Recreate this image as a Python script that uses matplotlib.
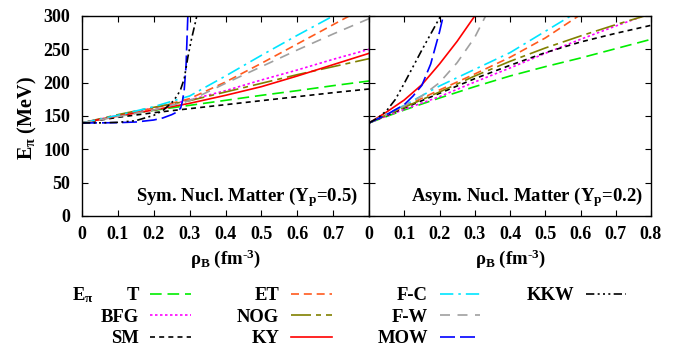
import numpy as np
import matplotlib
matplotlib.use("Agg")
import matplotlib.pyplot as plt
from matplotlib.lines import Line2D

plt.rcParams['font.family'] = 'Liberation Serif'
plt.rcParams['font.weight'] = 'bold'
plt.rcParams['axes.labelweight'] = 'bold'
plt.rcParams['mathtext.fontset'] = 'custom'
plt.rcParams['mathtext.rm'] = 'Liberation Serif:bold'
plt.rcParams['mathtext.it'] = 'Liberation Serif:bold'
plt.rcParams['mathtext.bf'] = 'Liberation Serif:bold'

# Matéria simétrica (Yp = 0.5)
x_sym = [0, 0.1, 0.2, 0.3, 0.4, 0.5, 0.6, 0.7, 0.8]
t_sym = [139.6, 150, 158.5, 166, 173.5, 181, 188, 195.5, 202.5]
bfg_sym = [139.6, 151, 162, 174, 188, 204, 219, 235, 250]
sm_sym = [139.6, 148, 155, 161, 167, 173, 179, 185, 190.5]
et_sym = [139.6, 150, 162, 176, 201, 229, 258, 287, 316]
nog_sym = [139.6, 152, 163, 173, 186, 199, 212, 224, 236]
ky_sym = [139.6, 150, 159, 169, 181, 194, 210, 227, 244]
fc_sym = [139.6, 151, 164, 180, 210, 241, 271, 300, 330]
fw_sym = [139.6, 149, 159, 173, 199, 224, 249, 273, 296]
x_mow_sym = [0, 0.05, 0.1, 0.15, 0.2, 0.225, 0.25, 0.265, 0.275, 0.28, 0.285, 0.29, 0.295, 0.3]
mow_sym = [139.6, 139.7, 140, 141, 144, 147, 152, 156, 162, 172, 190, 225, 300, 340]
x_kkw_sym = [0, 0.05, 0.1, 0.15, 0.2, 0.225, 0.25, 0.265, 0.275, 0.285, 0.295, 0.305, 0.315, 0.325]
kkw_sym = [139.6, 139.7, 140.5, 143, 151, 158, 170, 180, 190, 206, 238, 265, 288, 312]

# Matéria assimétrica (Yp = 0.2)
x_asy = [0, 0.1, 0.2, 0.3, 0.4, 0.5, 0.6, 0.7, 0.8]
t_asy = [139.6, 159, 177, 194, 210, 224, 237, 251, 265]
bfg_asy = [139.6, 160, 179, 201, 222, 244, 265, 285, 304]
sm_asy = [139.6, 162, 184, 206, 226, 245, 261, 274, 286]
et_asy = [139.6, 164, 189, 213, 238, 267, 302, 340, 380]
nog_asy = [139.6, 163, 186, 210, 232, 252, 270, 287, 303]
fc_asy = [139.6, 166, 195, 220, 245, 277, 309, 345, 380]
x_ky_asy = [0, 0.05, 0.1, 0.15, 0.2, 0.25, 0.3, 0.32]
ky_asy = [139.6, 156, 174, 197, 228, 262, 300, 318]
x_fw_asy = [0, 0.05, 0.1, 0.15, 0.2, 0.25, 0.3, 0.35]
fw_asy = [139.6, 152, 165, 180, 200, 230, 268, 320]
x_mow_asy = [0, 0.05, 0.1, 0.125, 0.15, 0.175, 0.2, 0.215]
mow_asy = [139.6, 152, 167, 180, 196, 228, 276, 310]
x_kkw_asy = [0, 0.025, 0.05, 0.075, 0.1, 0.15, 0.2, 0.215]
kkw_asy = [139.6, 147, 158, 175, 199, 249, 297, 312]

# Estilos (cor, tracejado)
estilos = {
    'T':   ('#00ee00', [7, 3.5]),
    'BFG': ('#ff00ff', [1.5, 1.5]),
    'SM':  ('black',   [3, 2.5]),
    'ET':  ('#ff5a1e', [4.8, 2.9]),
    'NOG': ('#808000', [12, 3, 3, 3]),
    'KY':  ('#ff0000', None),
    'F-C': ('#00e5ff', [8, 3, 1.5, 3]),
    'F-W': ('#a0a0a0', [6, 4.5]),
    'MOW': ('#0000ff', [9, 3]),
    'KKW': ('black',   [5, 2, 1.2, 2, 1.2, 2, 1.2, 2]),
}

series_sym = [('T', x_sym, t_sym), ('BFG', x_sym, bfg_sym), ('SM', x_sym, sm_sym),
              ('ET', x_sym, et_sym), ('NOG', x_sym, nog_sym), ('KY', x_sym, ky_sym),
              ('F-C', x_sym, fc_sym), ('F-W', x_sym, fw_sym),
              ('MOW', x_mow_sym, mow_sym), ('KKW', x_kkw_sym, kkw_sym)]
series_asy = [('T', x_asy, t_asy), ('BFG', x_asy, bfg_asy), ('SM', x_asy, sm_asy),
              ('ET', x_asy, et_asy), ('NOG', x_asy, nog_asy), ('KY', x_ky_asy, ky_asy),
              ('F-C', x_asy, fc_asy), ('F-W', x_fw_asy, fw_asy),
              ('MOW', x_mow_asy, mow_asy), ('KKW', x_kkw_asy, kkw_asy)]

W, H = 680, 347
fig = plt.figure(figsize=(W / 100, H / 100), dpi=100)
ax1 = fig.add_axes([82 / W, 1 - 216 / H, 287 / W, 200 / H])
ax2 = fig.add_axes([369 / W, 1 - 216 / H, 282 / W, 200 / H])

def desenha(ax, series):
    handles = []
    for nome, x, y in series:
        cor, dash = estilos[nome]
        if dash is None:
            l, = ax.plot(x, y, color=cor, lw=1.2, label=nome)
        else:
            l, = ax.plot(x, y, color=cor, lw=1.2, dashes=dash, label=nome)
        handles.append(l)
    ax.set_xlim(0, 0.8)
    ax.set_ylim(0, 300)
    ax.set_xticks(np.arange(0, 0.81, 0.1))
    ax.set_yticks(range(0, 301, 50))
    ax.tick_params(direction='in', top=True, right=True, length=4, width=0.8,
                   labelsize=13)
    ax.tick_params(axis='x', pad=7.5)
    ax.tick_params(axis='y', pad=8.5)
    for s in ax.spines.values():
        s.set_linewidth(1.0)
    ax.set_xlabel(r'$\rho_B$ (fm$^{\text{-3}}$)', fontsize=13.5, fontweight='bold')
    ax.xaxis.set_label_coords(0.5, -0.155)
    return handles

handles = desenha(ax1, series_sym)
desenha(ax2, series_asy)

ax1.set_xticklabels(['0', '0.1', '0.2', '0.3', '0.4', '0.5', '0.6', '0.7', ''])
ax2.set_xticklabels(['0', '0.1', '0.2', '0.3', '0.4', '0.5', '0.6', '0.7', '0.8'])
ax2.set_yticklabels([])
for ax in (ax1, ax2):
    for lbl in ax.get_xticklabels() + ax.get_yticklabels():
        lbl.set_fontweight('bold')

ax1.set_ylabel(r'E$_\pi$ (MeV)', fontsize=14.5, fontweight='bold')
ax1.yaxis.set_label_coords(-0.15, 0.49)

ax1.text(0.962, 0.095, r'Sym. Nucl. Matter (Y$_p$=0.5)', transform=ax1.transAxes,
         ha='right', va='center', fontsize=13.5)
ax2.text(0.972, 0.095, r'Asym. Nucl. Matter (Y$_p$=0.2)', transform=ax2.transAxes,
         ha='right', va='center', fontsize=13.5)

# Legenda abaixo dos painéis
vazio = Line2D([], [], linestyle='none')
leg_handles = handles + [vazio, vazio]
leg_labels = [h.get_label() for h in handles] + ['', '']
fig.legend(leg_handles, leg_labels, ncol=4, markerfirst=False, frameon=False,
           loc='upper left', bbox_to_anchor=(100.5 / W, 1 - 287 / H),
           prop={'size': 13.4, 'weight': 'bold'}, handlelength=2.18,
           handletextpad=0.63, columnspacing=2.47, labelspacing=0.24,
           borderpad=0, borderaxespad=0)
fig.text(72 / W, 1 - 295 / H, r'E$_\pi$', fontsize=13.4, va='center', ha='left')

plt.savefig('out.png', dpi=100)
